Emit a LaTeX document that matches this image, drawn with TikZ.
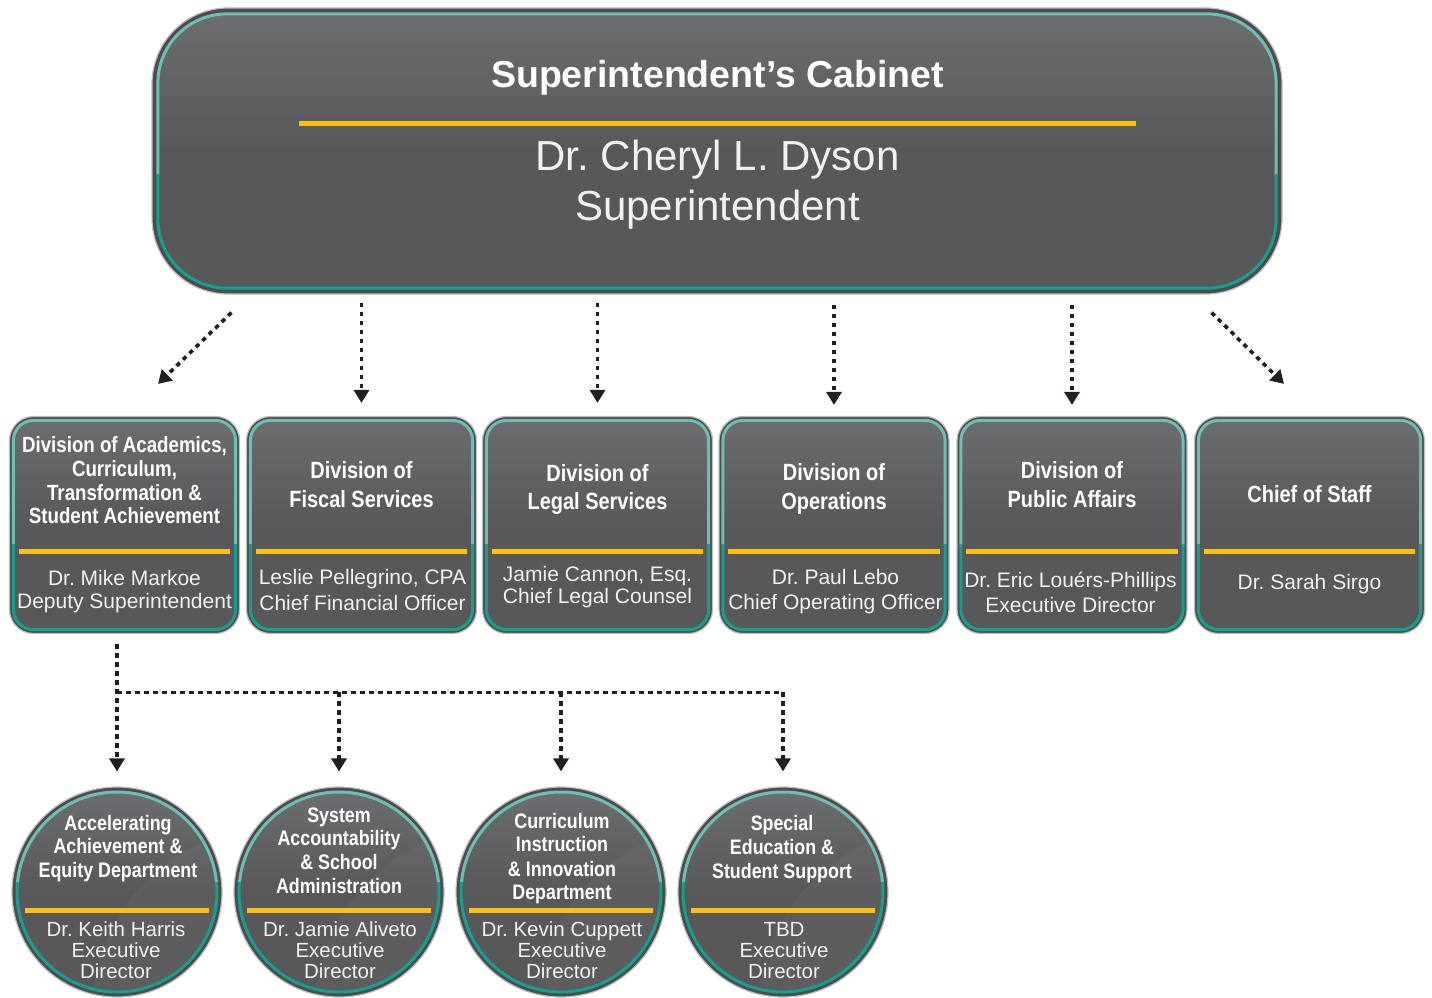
\documentclass[tikz,border=0pt]{standalone}
\usepackage{fontspec}
\setmainfont{Liberation Sans}
\newfontfamily\hfont{Liberation Sans}[FakeStretch=0.85]
\usetikzlibrary{arrows.meta,calc}
\frenchspacing
\definecolor{boxgray}{HTML}{58585A}
\definecolor{boxtop}{HTML}{6C6D70}
\definecolor{edgegray}{HTML}{4C4C4E}
\definecolor{halo}{HTML}{BDBDBD}
\definecolor{tealA}{HTML}{6CBFB5}
\definecolor{tealB}{HTML}{12A08F}
\definecolor{gold}{HTML}{FDC10E}
\definecolor{dotblack}{HTML}{231F20}
\definecolor{namewhite}{HTML}{F1F1F1}
\newcommand\rdeco[4]{%
  \shade[rounded corners=#3, top color=boxtop, bottom color=boxgray, middle color=boxgray]
    ($(#1.north west)+(#2,#2)$) rectangle ($(#1.south east)+(-#2,-#2)$);
  \begin{scope}
    \clip ($(#1.north west)+(-3,-3)$) rectangle ($(#1.north east)+(3,#4)$);
    \draw[tealA, line width=3pt, rounded corners=#3] ($(#1.north west)+(#2,#2)$) rectangle ($(#1.south east)+(-#2,-#2)$);
  \end{scope}
  \begin{scope}
    \clip ($(#1.north west)+(-3,#4)$) rectangle ($(#1.south east)+(3,3)$);
    \draw[tealB, line width=3pt, rounded corners=#3] ($(#1.north west)+(#2,#2)$) rectangle ($(#1.south east)+(-#2,-#2)$);
  \end{scope}}
\newcommand\cdeco[1]{%
  \shade[top color=boxtop, bottom color=boxgray, middle color=boxgray] (#1.center) circle (100pt);
  \begin{scope}
    \clip (#1.center) circle (100pt);
    \fill[white, opacity=0.03] ($(#1.center)+(160,120)$) circle (185pt);
  \end{scope}
  \begin{scope}
    \clip ($(#1.center)+(-110,-110)$) rectangle ($(#1.center)+(110,-10)$);
    \draw[tealA, line width=3pt] (#1.center) circle (100pt);
  \end{scope}
  \begin{scope}
    \clip ($(#1.center)+(-110,-10)$) rectangle ($(#1.center)+(110,110)$);
    \draw[tealB, line width=3pt] (#1.center) circle (100pt);
  \end{scope}}
\newcommand\dbox[2]{%
  \node[divbox] (#1) at (#2,525) {};
  \rdeco{#1}{4.5}{20pt}{128.5}
  \draw[goldline] ($(#1.north west)+(10,135.5)$) -- ($(#1.north east)+(-10,135.5)$);}
\newcommand\cbox[2]{%
  \node[circbox] (#1) at (#2,892) {};
  \cdeco{#1}
  \draw[goldline] ($(#1.center)+(-92,18.5)$) -- ($(#1.center)+(92,18.5)$);}
\begin{document}
\begin{tikzpicture}[x=1pt,y=-1pt,
  divbox/.style={rectangle, rounded corners=24pt, minimum width=230pt, minimum height=217pt, fill=edgegray, draw=halo, line width=1.2pt, inner sep=0pt},
  topbox/.style={rectangle, rounded corners=76pt, minimum width=1130pt, minimum height=286pt, fill=edgegray, draw=halo, line width=1.2pt, inner sep=0pt},
  circbox/.style={circle, minimum size=210pt, fill=edgegray, draw=halo, line width=1.2pt, inner sep=0pt},
  hd/.style={text=white, font=\hfont\bfseries\fontsize{23.5}{28}\selectfont, inner sep=0pt, anchor=base},
  hds/.style={hd, font=\hfont\bfseries\fontsize{22}{26}\selectfont},
  hdc/.style={hd, font=\hfont\bfseries\fontsize{21}{25}\selectfont},
  nm/.style={text=namewhite, font=\fontsize{21}{25}\selectfont, inner sep=0pt, anchor=base},
  nmc/.style={nm, font=\fontsize{20.5}{24}\selectfont},
  goldline/.style={gold, line width=5.5pt},
  arr/.style={dotblack, line width=3.6pt, dash pattern=on 4.5pt off 4.5pt, -{Triangle[width=15pt,length=13pt]}}]
\useasboundingbox (0,0) rectangle (1432,998);
\fill[white] (0,0) rectangle (1432,998);

% top box
\node[topbox] (top) at (717,151) {};
\rdeco{top}{6.5}{69pt}{167}
\draw[goldline] (299,123.5) -- (1136,123.5);
\node[text=white, font=\bfseries\fontsize{37.5}{44}\selectfont, anchor=base, inner sep=0pt] (ttl) at (717.5,87) {Superintendent’s Cabinet};
\node[text=namewhite, font=\fontsize{42}{50}\selectfont, anchor=base, inner sep=0pt] (sup1) at (717.5,170) {Dr. Cheryl L. Dyson};
\node[text=namewhite, font=\fontsize{42}{50}\selectfont, anchor=base, inner sep=0pt] (sup2) at (717.5,220) {Superintendent};

% division boxes
\dbox{d1}{124.5}
\dbox{d2}{361.5}
\dbox{d3}{597.5}
\dbox{d4}{834}
\dbox{d5}{1072}
\dbox{d6}{1309.5}

\node[hds] (h1a) at (124.5,452) {Division of Academics,};
\node[hds] (h1b) at (124.5,476) {Curriculum,};
\node[hds] (h1c) at (124.5,500) {Transformation \&};
\node[hds] (h1d) at (124.5,523) {Student Achievement};
\node[nm] (n1a) at (124.5,585) {Dr. Mike Markoe};
\node[nm] (n1b) at (124.5,608) {Deputy Superintendent};

\node[hd] (h2a) at (361.5,478) {Division of};
\node[hd] (h2b) at (361.5,507) {Fiscal Services};
\node[nm] (n2a) at (362.5,584) {Leslie Pellegrino, CPA};
\node[nm] (n2b) at (362.5,610) {Chief Financial Officer};

\node[hd] (h3a) at (597.5,481) {Division of};
\node[hd] (h3b) at (597.5,509) {Legal Services};
\node[nm] (n3a) at (597.5,581) {Jamie Cannon, Esq.};
\node[nm] (n3b) at (597.5,603) {Chief Legal Counsel};

\node[hd] (h4a) at (834,480) {Division of};
\node[hd] (h4b) at (834,509) {Operations};
\node[nm] (n4a) at (835.5,584) {Dr. Paul Lebo};
\node[nm] (n4b) at (835.5,609) {Chief Operating Officer};

\node[hd] (h5a) at (1072,478) {Division of};
\node[hd] (h5b) at (1072,507) {Public Affairs};
\node[nm] (n5a) at (1070.5,587) {Dr. Eric Louérs-Phillips};
\node[nm] (n5b) at (1070.5,612) {Executive Director};

\node[hd] (h6a) at (1309.5,502) {Chief of Staff};
\node[nm] (n6a) at (1309.5,589) {Dr. Sarah Sirgo};

% circles
\cbox{c1}{117}
\cbox{c2}{339}
\cbox{c3}{561}
\cbox{c4}{783}

\node[hdc] (k1a) at (118,830) {Accelerating};
\node[hdc] (k1b) at (118,853) {Achievement \&};
\node[hdc] (k1c) at (118,877) {Equity Department};
\node[nmc] (m1a) at (116,936) {Dr. Keith Harris};
\node[nmc] (m1b) at (116,957) {Executive};
\node[nmc] (m1c) at (116,978) {Director};

\node[hdc] (k2a) at (339,822) {System};
\node[hdc] (k2b) at (339,845) {Accountability};
\node[hdc] (k2c) at (339,869) {\& School};
\node[hdc] (k2d) at (339,893) {Administration};
\node[nmc] (m2a) at (340,936) {Dr. Jamie Aliveto};
\node[nmc] (m2b) at (340,957) {Executive};
\node[nmc] (m2c) at (340,978) {Director};

\node[hdc] (k3a) at (562,828) {Curriculum};
\node[hdc] (k3b) at (562,851) {Instruction};
\node[hdc] (k3c) at (562,876) {\& Innovation};
\node[hdc] (k3d) at (562,899) {Department};
\node[nmc] (m3a) at (562,936) {Dr. Kevin Cuppett};
\node[nmc] (m3b) at (562,957) {Executive};
\node[nmc] (m3c) at (562,978) {Director};

\node[hdc] (k4a) at (782,830) {Special};
\node[hdc] (k4b) at (782,854) {Education \&};
\node[hdc] (k4c) at (782,878) {Student Support};
\node[nmc] (m4a) at (784,936) {TBD};
\node[nmc] (m4b) at (784,957) {Executive};
\node[nmc] (m4c) at (784,978) {Director};

% arrows from the cabinet
\draw[arr] ($(top.south west)+(80,18)$) -- ($(d1.north)+(33.5,-32)$);
\draw[arr] ($(top.south -| d2.north)+(0,8)$) -- ($(d2.north)+(0,-13)$);
\draw[arr] ($(top.south -| d3.north)+(0,8)$) -- ($(d3.north)+(0,-13)$);
\draw[arr] ($(top.south -| d4.north)+(0,10)$) -- ($(d4.north)+(0,-11)$);
\draw[arr] ($(top.south -| d5.north)+(0,10)$) -- ($(d5.north)+(0,-11)$);
\draw[arr] ($(top.south east)+(-71,18)$) -- ($(d6.north)+(-25.5,-32)$);

% arrows to departments
\draw[arr] ($(d1.south -| c1.north)+(0,10)$) -- ($(c1.north)+(0,-15)$);
\draw[arr] ($(c1.north)+(0,-94)$) -| ($(c4.north)+(0,-15)$);
\draw[arr] ($(c2.north)+(0,-94)$) -- ($(c2.north)+(0,-15)$);
\draw[arr] ($(c3.north)+(0,-94)$) -- ($(c3.north)+(0,-15)$);
\end{tikzpicture}
\end{document}
